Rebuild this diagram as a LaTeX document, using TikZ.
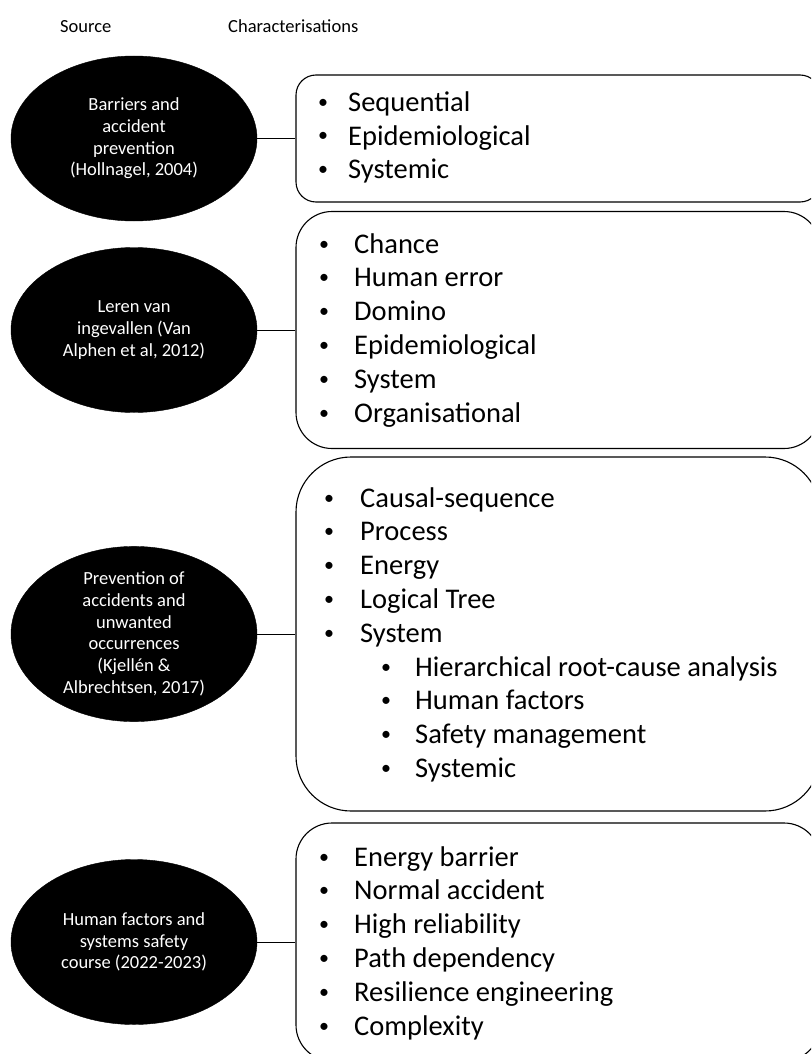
\documentclass[tikz,border=0pt]{standalone}
\usepackage{fontspec}
\setmainfont{Carlito}
\usetikzlibrary{shapes.geometric}
\newcommand\placelist[6]{% prefix, bullet x, text x, first baseline, spacing, items
  \foreach \t [count=\i from 0] in {#6} {
    \node[bul] (#1b\i) at (#2, #4+#5*\i) {\raisebox{3pt}{\textbullet}};
    \node[item] (#1t\i) at (#3, #4+#5*\i) {\t};
  }}
\begin{document}
\begin{tikzpicture}[x=1pt,y=-1pt,
  src/.style={ellipse, fill=black, draw=black, text=white, inner sep=0pt,
    minimum width=246pt, minimum height=165pt, align=center,
    font=\fontsize{18.5}{21.7}\selectfont},
  cbox/.style={draw=black, line width=1.1pt, rounded corners=#1,
    minimum width=524pt, inner sep=0pt},
  item/.style={anchor=base west, inner sep=0pt, font=\fontsize{28.5}{34}\selectfont},
  bul/.style={anchor=base west, inner sep=0pt, font=\fontsize{20}{20}\selectfont},
  hdr/.style={anchor=base west, inner sep=0pt, font=\fontsize{18.5}{22}\selectfont},
  link/.style={draw=black, line width=0.9pt}]
\clip (0,0) rectangle (811,1054);
\fill[white] (0,0) rectangle (811,1054);

% headers
\node[hdr] (hsrc) at (60,33) {Source};
\node[hdr] (hchar) at (228,33) {Characterisations};

% source ellipses
\node[src] (e1) at (134,138.5) {Barriers and\\accident\\prevention\\(Hollnagel, 2004)};
\node[src] (e2) at (134,330) {Leren van\\ingevallen (Van\\Alphen et al, 2012)};
\node[src] (e3) at (134,634) {Prevention of\\accidents and\\unwanted\\occurrences\\(Kjellén \&\\Albrechtsen, 2017)};
\node[src] (e4) at (134,942) {Human factors and\\systems safety\\course (2022-2023)};

% characterisation boxes
\node[cbox=20pt, minimum height=127pt] (c1) at (558,138.5) {};
\node[cbox=36pt, minimum height=237pt] (c2) at (558,330) {};
\node[cbox=55pt, minimum height=354pt] (c3) at (558,634) {};
\node[cbox=36pt, minimum height=238pt] (c4) at (558,942) {};

% connectors
\draw[link] (e1.east) -- (c1.west);
\draw[link] (e2.east) -- (c2.west);
\draw[link] (e3.east) -- (c3.west);
\draw[link] (e4.east) -- (c4.west);

% lists
\placelist{a}{318}{348}{112}{33}{Sequential, Epidemiological, Systemic}
\placelist{b}{319}{354}{253}{33.8}{Chance, Human error, Domino, Epidemiological, System, Organisational}
\placelist{c}{324}{360}{507}{33.9}{Causal-sequence, Process, Energy, Logical Tree, System}
\placelist{d}{381}{415}{676}{33.9}{Hierarchical root-cause analysis, Human factors, Safety management, Systemic}
\placelist{f}{319}{354}{866}{33.8}{Energy barrier, Normal accident, High reliability, Path dependency, Resilience engineering, Complexity}
\end{tikzpicture}
\end{document}
